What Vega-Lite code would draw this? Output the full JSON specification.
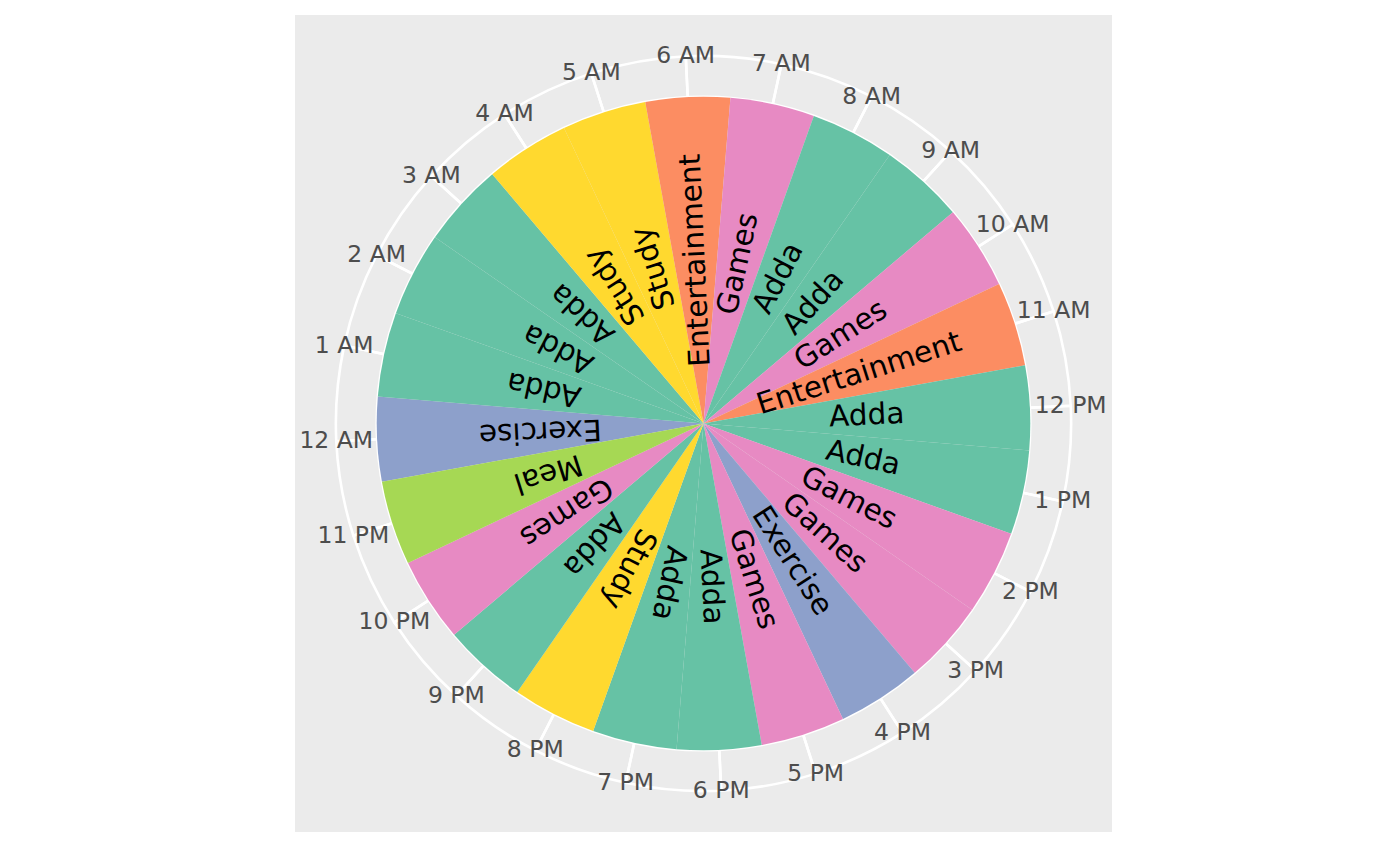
{
  "$schema": "https://vega.github.io/schema/vega-lite/v6.json",
  "width": 817,
  "height": 817,
  "padding": {"left": 295, "top": 15, "right": 288, "bottom": 34},
  "background": "white",
  "view": {"fill": "#EBEBEB", "stroke": null},
  "config": {"font": "DejaVu Sans"},
  "data": {
    "values": [
      {"idx": 0, "hour": "12 AM", "activity": "Exercise", "hours": 1},
      {"idx": 1, "hour": "1 AM", "activity": "Adda", "hours": 1},
      {"idx": 2, "hour": "2 AM", "activity": "Adda", "hours": 1},
      {"idx": 3, "hour": "3 AM", "activity": "Adda", "hours": 1},
      {"idx": 4, "hour": "4 AM", "activity": "Study", "hours": 1},
      {"idx": 5, "hour": "5 AM", "activity": "Study", "hours": 1},
      {"idx": 6, "hour": "6 AM", "activity": "Entertainment", "hours": 1},
      {"idx": 7, "hour": "7 AM", "activity": "Games", "hours": 1},
      {"idx": 8, "hour": "8 AM", "activity": "Adda", "hours": 1},
      {"idx": 9, "hour": "9 AM", "activity": "Adda", "hours": 1},
      {"idx": 10, "hour": "10 AM", "activity": "Games", "hours": 1},
      {"idx": 11, "hour": "11 AM", "activity": "Entertainment", "hours": 1},
      {"idx": 12, "hour": "12 PM", "activity": "Adda", "hours": 1},
      {"idx": 13, "hour": "1 PM", "activity": "Adda", "hours": 1},
      {"idx": 14, "hour": "2 PM", "activity": "Games", "hours": 1},
      {"idx": 15, "hour": "3 PM", "activity": "Games", "hours": 1},
      {"idx": 16, "hour": "4 PM", "activity": "Exercise", "hours": 1},
      {"idx": 17, "hour": "5 PM", "activity": "Games", "hours": 1},
      {"idx": 18, "hour": "6 PM", "activity": "Adda", "hours": 1},
      {"idx": 19, "hour": "7 PM", "activity": "Adda", "hours": 1},
      {"idx": 20, "hour": "8 PM", "activity": "Study", "hours": 1},
      {"idx": 21, "hour": "9 PM", "activity": "Adda", "hours": 1},
      {"idx": 22, "hour": "10 PM", "activity": "Games", "hours": 1},
      {"idx": 23, "hour": "11 PM", "activity": "Meal", "hours": 1}
    ]
  },
  "encoding": {
    "theta": {
      "field": "hours",
      "type": "quantitative",
      "stack": true,
      "scale": {"domain": [0, 24], "range": [4.53319, 10.81637]}
    },
    "order": {"field": "idx", "type": "quantitative"}
  },
  "layer": [
    {
      "mark": {"type": "arc", "fill": "transparent", "stroke": "white", "strokeWidth": 2.6, "thetaOffset": 0.1309, "theta2Offset": 0.1309},
      "encoding": {
        "radius": {"datum": 1.125, "type": "quantitative", "scale": {"type": "linear", "domain": [0, 1.25], "range": [0, 408.5], "zero": true}}
      }
    },
    {
      "mark": {"type": "arc", "fill": "transparent", "stroke": "white", "strokeWidth": 2.6, "thetaOffset": 0.1309, "theta2Offset": 0.1309},
      "encoding": {
        "radius": {"datum": 1, "type": "quantitative"}
      }
    },
    {
      "mark": {"type": "arc", "stroke": null},
      "encoding": {
        "radius": {"field": "hours", "type": "quantitative"},
        "color": {
          "field": "activity",
          "type": "nominal",
          "scale": {
            "domain": ["Adda", "Entertainment", "Exercise", "Games", "Meal", "Study"],
            "range": ["#66C2A5", "#FC8D62", "#8DA0CB", "#E78AC3", "#A6D854", "#FFD92F"]
          },
          "legend": null
        }
      }
    },
    {
      "mark": {"type": "text", "fontSize": 29.5, "color": "black", "align": "center", "baseline": "middle"},
      "encoding": {
        "radius": {"datum": 0.5, "type": "quantitative"},
        "text": {"field": "activity", "type": "nominal"},
        "angle": {
          "field": "idx",
          "type": "quantitative",
          "scale": {"domain": [0, 24], "range": [177.27, 537.27]},
          "legend": null
        }
      }
    },
    {
      "mark": {"type": "text", "fontSize": 23.5, "color": "#4D4D4D", "align": "center", "baseline": "middle"},
      "encoding": {
        "radius": {"datum": 1.125, "type": "quantitative"},
        "text": {"field": "hour", "type": "nominal"}
      }
    }
  ]
}
